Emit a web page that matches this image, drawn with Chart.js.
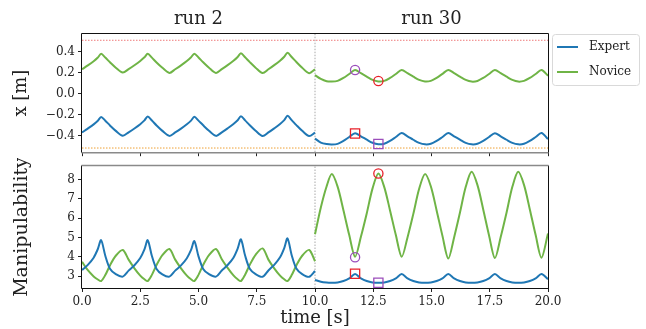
<!DOCTYPE html>
<html>
<head>
<meta charset="utf-8">
<script src="https://cdn.jsdelivr.net/npm/chart.js@4.4.1/dist/chart.umd.min.js"></script>
<style>
  body { margin: 0; background: #fff; }
  #wrap { position: relative; width: 646px; height: 329px; }
  canvas { position: absolute; left: 0; }
</style>
</head>
<body>
<div id="wrap">
  <canvas id="posChart" width="646" height="160" style="top:0"></canvas>
  <canvas id="manChart" width="646" height="171" style="top:158px"></canvas>
</div>
<script>
// --- data -----------------------------------------------------------------
const runNames = ['run 2', 'run 30'];
const runSplit = 10;

const run2Time = [
  0, 0.25, 0.5, 0.68, 0.82, 1.0, 1.2, 1.45, 1.75,
  2, 2.25, 2.5, 2.68, 2.82, 3.0, 3.2, 3.45, 3.75,
  4, 4.25, 4.5, 4.68, 4.82, 5.0, 5.2, 5.45, 5.75,
  6, 6.25, 6.5, 6.68, 6.82, 7.0, 7.2, 7.45, 7.75,
  8, 8.25, 8.5, 8.68, 8.82, 9.0, 9.2, 9.45, 9.75,
  10
];
const run30Time = [
  10.0, 10.25, 10.5, 10.72,
  10.97, 11.22, 11.47, 11.72, 11.97, 12.22, 12.47, 12.72,
  12.97, 13.22, 13.47, 13.72, 13.97, 14.22, 14.47, 14.72,
  14.97, 15.22, 15.47, 15.72, 15.97, 16.22, 16.47, 16.72,
  16.97, 17.22, 17.47, 17.72, 17.97, 18.22, 18.47, 18.72,
  18.97, 19.22, 19.47, 19.72,
  20.0
];

// hand position x [m]
const expertPos2 = [
  -0.372, -0.334, -0.294, -0.259, -0.223, -0.259, -0.304, -0.356, -0.403,
  -0.370, -0.333, -0.292, -0.256, -0.218, -0.257, -0.304, -0.356, -0.404,
  -0.371, -0.334, -0.293, -0.258, -0.222, -0.258, -0.303, -0.355, -0.404,
  -0.370, -0.332, -0.291, -0.255, -0.217, -0.256, -0.302, -0.355, -0.405,
  -0.371, -0.332, -0.290, -0.253, -0.212, -0.253, -0.301, -0.356, -0.406,
  -0.372
];
const novicePos2 = [
  0.233, 0.270, 0.310, 0.345, 0.380, 0.345, 0.300, 0.248, 0.201,
  0.234, 0.271, 0.312, 0.347, 0.381, 0.344, 0.298, 0.247, 0.198,
  0.233, 0.270, 0.311, 0.347, 0.382, 0.345, 0.300, 0.248, 0.198,
  0.234, 0.272, 0.314, 0.350, 0.386, 0.347, 0.301, 0.248, 0.197,
  0.233, 0.272, 0.315, 0.352, 0.390, 0.350, 0.302, 0.247, 0.195,
  0.232
];
const expertPos30 = [
  -0.430, -0.468, -0.482, -0.486,
  -0.480, -0.452, -0.415, -0.378, -0.408, -0.440, -0.470, -0.484,
  -0.479, -0.452, -0.415, -0.377, -0.408, -0.441, -0.471, -0.485,
  -0.480, -0.452, -0.415, -0.377, -0.408, -0.440, -0.471, -0.485,
  -0.480, -0.452, -0.415, -0.378, -0.408, -0.441, -0.471, -0.485,
  -0.480, -0.452, -0.415, -0.377,
  -0.435
];
const novicePos30 = [
  0.177, 0.140, 0.118, 0.115,
  0.122, 0.150, 0.188, 0.226, 0.195, 0.163, 0.132, 0.117,
  0.122, 0.150, 0.188, 0.226, 0.195, 0.162, 0.131, 0.116,
  0.122, 0.151, 0.189, 0.227, 0.196, 0.163, 0.131, 0.115,
  0.121, 0.150, 0.188, 0.226, 0.195, 0.162, 0.131, 0.115,
  0.122, 0.150, 0.188, 0.226,
  0.172
];

// manipulability
const expertMan2 = [
  3.31, 3.58, 3.95, 4.40, 4.86, 4.05, 3.38, 3.10, 2.97,
  3.28, 3.56, 3.93, 4.38, 4.86, 4.04, 3.37, 3.09, 2.97,
  3.28, 3.55, 3.92, 4.35, 4.81, 4.02, 3.37, 3.10, 2.97,
  3.29, 3.57, 3.95, 4.42, 4.90, 4.06, 3.38, 3.10, 2.96,
  3.29, 3.58, 3.97, 4.45, 4.95, 4.08, 3.39, 3.10, 2.96,
  3.26
];
const noviceMan2 = [
  3.74, 3.30, 2.98, 2.82, 2.74, 3.05, 3.55, 4.05, 4.35,
  3.85, 3.40, 3.02, 2.83, 2.74, 3.06, 3.57, 4.08, 4.40,
  3.85, 3.40, 3.02, 2.83, 2.74, 3.06, 3.57, 4.08, 4.40,
  3.87, 3.42, 3.03, 2.83, 2.74, 3.07, 3.58, 4.10, 4.43,
  3.85, 3.40, 3.02, 2.83, 2.74, 3.05, 3.55, 4.05, 4.35,
  3.77
];
const expertMan30 = [
  2.80, 2.70, 2.66, 2.65,
  2.67, 2.74, 2.88, 3.10, 2.88, 2.74, 2.67, 2.65,
  2.67, 2.74, 2.88, 3.10, 2.88, 2.74, 2.67, 2.65,
  2.67, 2.74, 2.88, 3.10, 2.88, 2.74, 2.67, 2.65,
  2.67, 2.74, 2.88, 3.10, 2.88, 2.74, 2.67, 2.65,
  2.67, 2.74, 2.88, 3.10,
  2.84
];
const noviceMan30 = [
  5.16, 6.55, 7.65, 8.28,
  7.63, 6.41, 5.12, 4.00, 5.03, 6.24, 7.54, 8.31,
  7.62, 6.40, 5.12, 4.00, 5.00, 6.22, 7.52, 8.28,
  7.65, 6.40, 5.08, 3.91, 5.00, 6.28, 7.62, 8.40,
  7.72, 6.45, 5.10, 3.93, 5.02, 6.28, 7.62, 8.40,
  7.72, 6.45, 5.12, 3.95,
  5.20
];

// highlighted instants (circles on Novice, squares on Expert)
const markTime = [11.72, 12.72];
const circleColors = ['#9b4dbb', '#e8202a'];
const squareColors = ['#e8202a', '#9b4dbb'];
const markNovicePos = [0.226, 0.121];
const markExpertPos = [-0.381, -0.481];
const markNoviceMan = [3.97, 8.31];
const markExpertMan = [3.12, 2.65];

// workspace limits
const upperLimit = 0.51;
const lowerLimit = -0.52;

// axes
const timeTicks = [0, 2.5, 5, 7.5, 10, 12.5, 15, 17.5, 20];
const posTicks = [-0.4, -0.2, 0, 0.2, 0.4];
const manTicks = [3, 4, 5, 6, 7, 8];
const posRange = [-0.56, 0.57];
const manRange = [2.38, 8.7];

const expertColor = '#1f77b4';
const noviceColor = '#6fb446';
const FONT = 'DejaVu Serif';
const INK = '#222';

Chart.defaults.font.family = FONT;
Chart.defaults.color = INK;

// --- helpers ----------------------------------------------------------------
function joinRuns(t2, v2, t30, v30) {
  const a = t2.map((t, i) => ({x: t, y: v2[i]}));
  const b = t30.map((t, i) => ({x: t, y: v30[i]}));
  return a.concat([{x: runSplit, y: null}], b);
}
function pts(ys) {
  return markTime.map((t, i) => ({x: t, y: ys[i]}));
}
function lineSet(label, color, data) {
  return {
    label, data, inLegend: true,
    borderColor: color, backgroundColor: color,
    borderWidth: 2, pointRadius: 0, tension: 0.3, spanGaps: false, order: 2
  };
}
function guide(data, color) {
  return {
    data, borderColor: color, borderWidth: 1, borderDash: [1.5, 1.5],
    pointRadius: 0, order: 3
  };
}
function markers(data, style, colors, radius) {
  return {
    type: 'scatter', data, showLine: false,
    pointStyle: style, pointRadius: radius, pointHoverRadius: radius,
    pointBorderColor: colors, pointBackgroundColor: 'rgba(0,0,0,0)',
    pointBorderWidth: 1.3, order: 0
  };
}
// the label paddings would otherwise push the plot area around
function noEdgePadding(s) {
  s.paddingTop = 0; s.paddingBottom = 0; s.paddingLeft = 0; s.paddingRight = 0;
}
function timeAxis(showLabels, height, withTitle) {
  return {
    type: 'linear', min: 0, max: 20,
    afterBuildTicks: s => { s.ticks = timeTicks.map(v => ({value: v})); },
    afterFit: s => { s.height = height; noEdgePadding(s); },
    ticks: {display: showLabels, font: {size: 12}, padding: 3, maxRotation: 0,
            callback: v => v.toFixed(1)},
    grid: {display: true, drawOnChartArea: false, drawTicks: true,
           tickLength: 4, tickColor: INK},
    border: {display: false},
    title: {display: withTitle, text: 'time [s]', font: {size: 18},
            padding: {top: 0, bottom: 0}, color: INK}
  };
}
function valueAxis(range, ticks, label, fmt, titleSize) {
  return {
    min: range[0], max: range[1],
    afterBuildTicks: s => { s.ticks = ticks.map(v => ({value: v})); },
    afterFit: s => { s.width = 82; noEdgePadding(s); },
    ticks: {font: {size: 12}, padding: 3, callback: fmt},
    grid: {display: true, drawOnChartArea: false, drawTicks: true,
           tickLength: 4, tickColor: INK},
    border: {display: false},
    title: {display: true, text: label, font: {size: titleSize},
            padding: {top: 11, bottom: 0}, color: INK}
  };
}

// axes frame; one edge is lighter where the two panels meet
const frame = {
  id: 'frame',
  afterDraw(chart, args, opts) {
    const {ctx, chartArea: a} = chart;
    const L = a.left - 0.5, R = a.right + 0.5, T = a.top - 0.5, B = a.bottom + 0.5;
    ctx.save();
    ctx.lineWidth = 1;
    ctx.strokeStyle = '#111';
    ctx.beginPath();
    if (opts.soft === 'bottom') {
      ctx.moveTo(L, B); ctx.lineTo(L, T); ctx.lineTo(R, T); ctx.lineTo(R, B);
    } else {
      ctx.moveTo(L, T); ctx.lineTo(L, B); ctx.lineTo(R, B); ctx.lineTo(R, T);
    }
    ctx.stroke();
    ctx.strokeStyle = '#8a8a8a';
    ctx.lineWidth = 1.6;
    ctx.beginPath();
    const y = opts.soft === 'bottom' ? B : T;
    ctx.moveTo(L, y); ctx.lineTo(R, y);
    ctx.stroke();
    ctx.restore();
  }
};

// run headings over each half of the time axis
const runHeadings = {
  id: 'runHeadings',
  afterDraw(chart) {
    const {ctx, scales: {x}} = chart;
    const spans = [[run2Time[0], run2Time[run2Time.length - 1]],
                   [run30Time[0], run30Time[run30Time.length - 1]]];
    ctx.save();
    ctx.font = `18px "${FONT}"`;
    ctx.fillStyle = INK;
    ctx.textAlign = 'center';
    ctx.textBaseline = 'middle';
    runNames.forEach((name, i) => {
      ctx.fillText(name, x.getPixelForValue((spans[i][0] + spans[i][1]) / 2), 19);
    });
    ctx.restore();
  }
};

// framed legend to the right of the plot
const sideLegend = {
  id: 'sideLegend',
  afterDraw(chart) {
    const {ctx, chartArea: a} = chart;
    const items = chart.data.datasets.filter(d => d.inLegend);
    const x = a.right + 4, y = a.top, w = 87, h = 51, r = 3;
    ctx.save();
    ctx.fillStyle = 'rgba(255,255,255,0.85)';
    ctx.strokeStyle = '#d9d9d9';
    ctx.lineWidth = 1;
    ctx.beginPath();
    ctx.roundRect(x + 0.5, y + 0.5, w, h, r);
    ctx.fill();
    ctx.stroke();
    ctx.font = `12px "${FONT}"`;
    ctx.textBaseline = 'middle';
    items.forEach((d, i) => {
      const cy = y + 13 + i * 25;
      ctx.strokeStyle = d.borderColor;
      ctx.lineWidth = 2;
      ctx.beginPath();
      ctx.moveTo(x + 5, cy); ctx.lineTo(x + 26, cy);
      ctx.stroke();
      ctx.fillStyle = INK;
      ctx.fillText(d.label, x + 37, cy);
    });
    ctx.restore();
  }
};

const minus = v => (v < 0 ? '\u2212' : '') + Math.abs(v).toFixed(1);

// --- top panel: position ---------------------------------------------------
new Chart(document.getElementById('posChart'), {
  type: 'line',
  data: {
    datasets: [
      lineSet('Expert', expertColor, joinRuns(run2Time, expertPos2, run30Time, expertPos30)),
      lineSet('Novice', noviceColor, joinRuns(run2Time, novicePos2, run30Time, novicePos30)),
      guide([{x: 0, y: upperLimit}, {x: 20, y: upperLimit}], '#ee7a7a'),
      guide([{x: 0, y: lowerLimit}, {x: 20, y: lowerLimit}], '#eea033'),
      guide([{x: runSplit, y: posRange[0]}, {x: runSplit, y: posRange[1]}], '#a8a8a8'),
      markers(pts(markNovicePos), 'circle', circleColors, 4.6),
      markers(pts(markExpertPos), 'rect', squareColors, 6.5)
    ]
  },
  options: {
    responsive: false,
    animation: false,
    layout: {padding: {top: 34, right: 98, bottom: 0, left: 0}},
    scales: {
      x: timeAxis(false, 5, false),
      y: valueAxis(posRange, posTicks, 'x [m]', minus, 18)
    },
    plugins: {
      legend: {display: false},
      tooltip: {enabled: false},
      frame: {soft: 'bottom'}
    }
  },
  plugins: [frame, runHeadings, sideLegend]
});

// --- bottom panel: manipulability ------------------------------------------
new Chart(document.getElementById('manChart'), {
  type: 'line',
  data: {
    datasets: [
      lineSet('Expert', expertColor, joinRuns(run2Time, expertMan2, run30Time, expertMan30)),
      lineSet('Novice', noviceColor, joinRuns(run2Time, noviceMan2, run30Time, noviceMan30)),
      guide([{x: runSplit, y: manRange[0]}, {x: runSplit, y: manRange[1]}], '#a8a8a8'),
      markers(pts(markNoviceMan), 'circle', circleColors, 4.6),
      markers(pts(markExpertMan), 'rect', squareColors, 6.5)
    ]
  },
  options: {
    responsive: false,
    animation: false,
    layout: {padding: {top: 8, right: 98, bottom: 0, left: 0}},
    scales: {
      x: timeAxis(true, 41, true),
      y: valueAxis(manRange, manTicks, 'Manipulability', v => String(v), 19)
    },
    plugins: {
      legend: {display: false},
      tooltip: {enabled: false},
      frame: {soft: 'top'}
    }
  },
  plugins: [frame]
});
</script>
</body>
</html>
